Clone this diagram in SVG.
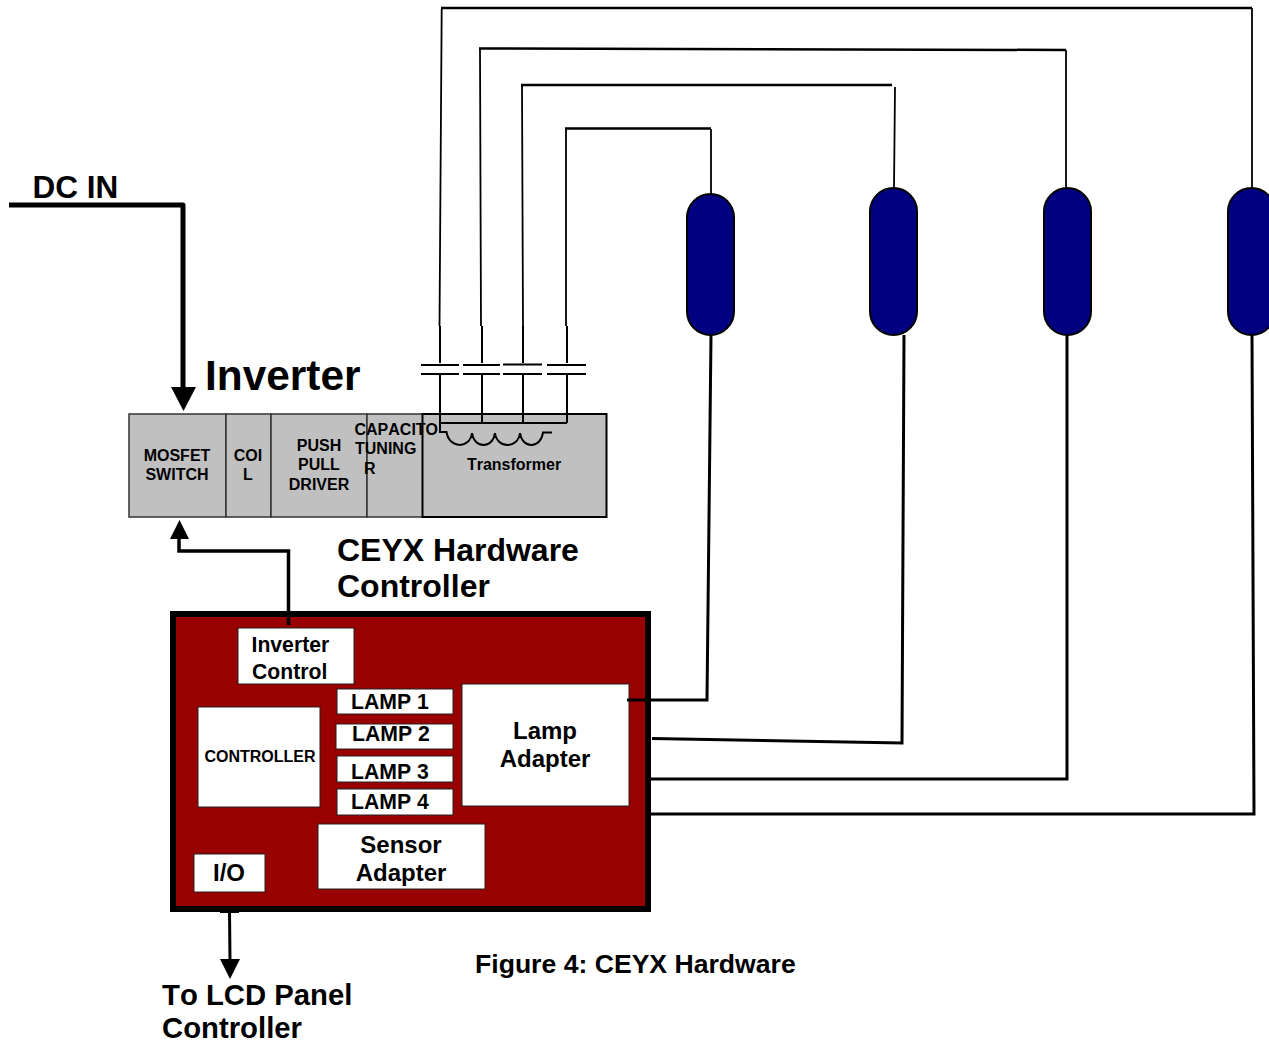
<svg xmlns="http://www.w3.org/2000/svg" width="1269" height="1040" viewBox="0 0 1269 1040">
<style>
text{font-family:"Liberation Sans",Arial,sans-serif;font-weight:700;fill:#000;font-kerning:none}
.m{text-anchor:middle}
.s16{font-size:16px}.s21{font-size:21.200px}.s24{font-size:24px}.s29{font-size:29.300px}.s31{font-size:31.500px}.s32{font-size:32px}.s42{font-size:42.400px}.s27{font-size:26.600px}
.g{fill:#c0c0c0;stroke:#333;stroke-width:1.500}
.t{fill:#c0c0c0;stroke:#000;stroke-width:2}
.b{fill:#990000;stroke:#000;stroke-width:6}
.w{fill:#fff;stroke:#222;stroke-width:1}
.lamp{fill:#000080;stroke:#000;stroke-width:2}
.c{fill:none;stroke:#000;stroke-linejoin:miter}
.h{fill:#000}
.c15{stroke-width:1.800}.c2{stroke-width:2}.c25{stroke-width:2.500}.c3{stroke-width:3}.c35{stroke-width:3.500}.c5{stroke-width:5;stroke-linejoin:round}
</style>
<g id="inverter-blocks">
<g id="mosfet"><rect class="g" x="129" y="414" width="97" height="103"/><text class="s16 m" x="177" y="461">MOSFET</text><text class="s16 m" x="177" y="480">SWITCH</text></g>
<g id="coil"><rect class="g" x="226" y="414" width="45" height="103"/><text class="s16 m" x="248" y="461">COI</text><text class="s16 m" x="248" y="480">L</text></g>
<g id="driver"><rect class="g" x="271" y="414" width="96" height="103"/><text class="s16 m" x="319" y="451">PUSH</text><text class="s16 m" x="319" y="470">PULL</text><text class="s16 m" x="319" y="490">DRIVER</text></g>
<g id="capacitor"><rect class="g" x="367" y="414" width="56" height="103"/></g>
<g id="transformer"><rect class="t" x="422.500" y="414" width="184" height="103"/><text class="s16 m" x="514" y="470">Transformer</text></g>
<g id="capacitor-label"><text class="s16" x="354.500" y="435">CAPACITO</text><text class="s16" x="355" y="454">TUNING</text><text class="s16" x="364" y="474">R</text></g>
</g>
<g id="lamps">
<rect id="lamp1" class="lamp" x="687" y="194" width="47" height="141" rx="23.500"/>
<rect id="lamp2" class="lamp" x="870" y="188" width="47" height="147" rx="23.500"/>
<rect id="lamp3" class="lamp" x="1044" y="188" width="47" height="147" rx="23.500"/>
<rect id="lamp4" class="lamp" x="1228" y="188" width="47" height="147" rx="23.500"/>
</g>
<g id="connectors">
<path class="c c5" d="M9 205H183V390"/><path class="h" d="M171 387H196L183.500 411Z"/>
<path class="c c15" d="M441.700 9L439.500 326M480 49L481 326M522 86L523 326M566 129V326M711 129V194M895 87L894 188M1066 50V188M1252 8V188"/>
<path class="c c25" d="M441 8H1252M479 48.500L1066 50M521 85H892M565 128.500H711"/>
<path class="c c2" d="M440 326V363M482 326V363M523 326V363M567 326V363"/>
<path class="c c2" d="M421 365H459M463 365H500M503 364.500H542M547 365H586M421 374H459M463 374H500M503 374H542M547 374H586"/>
<path class="c c2" d="M440 374V423M482 374V423M523 374V423M567 374V423M440 423H567"/>
<path class="c c2" d="M440 423V432H446.500C449 449 470 449 472 433C474 449 493 449 495 433C497 449 518 449 520 433C522 449 541 449 543 432.500H552"/>
<path class="c c3" d="M711 335L707 700H640"/>
<path class="c c3" d="M904 335L902 743L652 738.500"/>
<path class="c c3" d="M1067 335V779H650"/>
<path class="c c3" d="M1252 335L1254 814H650"/>
</g>
<g id="controller-board">
<rect class="b" x="173" y="614" width="475" height="295"/>
<g id="inverter-control"><rect class="w" x="238" y="628" width="116" height="56"/><text class="s21" x="251.500" y="652">Inverter</text><text class="s21" x="252" y="679">Control</text></g>
<g id="lamp-1"><rect class="w" x="337" y="689" width="116" height="25"/><text class="s21" x="351" y="709">LAMP 1</text></g>
<g id="lamp-2"><rect class="w" x="336" y="724" width="117" height="25"/><text class="s21" x="352" y="741">LAMP 2</text></g>
<g id="lamp-3"><rect class="w" x="337" y="756" width="116" height="26"/><text class="s21" x="351" y="779">LAMP 3</text></g>
<g id="lamp-4"><rect class="w" x="337" y="789" width="116" height="26"/><text class="s21" x="351" y="809">LAMP 4</text></g>
<g id="controller"><rect class="w" x="198" y="707" width="122" height="100"/><text class="s16 m" x="260" y="762">CONTROLLER</text></g>
<g id="lamp-adapter"><rect class="w" x="462" y="684" width="167" height="122"/><text class="s24 m" x="545" y="739">Lamp</text><text class="s24 m" x="545" y="767">Adapter</text></g>
<g id="sensor-adapter"><rect class="w" x="318" y="824" width="167" height="65"/><text class="s24 m" x="401" y="853">Sensor</text><text class="s24 m" x="401" y="881">Adapter</text></g>
<g id="io"><rect class="w" x="194" y="854" width="71" height="38"/><text class="s24 m" x="229" y="881">I/O</text></g>
</g>
<g id="connectors-top">
<path class="c c35" d="M288.500 625V551H179V535"/><path class="h" d="M170 539H189L179.500 520Z"/>
<path class="c c3" d="M220 911.500H239M229.500 911L230 962"/><path class="h" d="M220 959H240L230 979Z"/>
<path class="c c3" d="M627 700H650"/>
</g>
<g id="labels">
<text class="s31" x="32.500" y="198">DC IN</text>
<text class="s42" x="205" y="390">Inverter</text>
<text class="s32" x="337" y="561">CEYX Hardware</text>
<text class="s32" x="337" y="597">Controller</text>
<text class="s29" x="162" y="1005">To LCD Panel</text>
<text class="s29" x="162" y="1038">Controller</text>
<text class="s27" x="475" y="973">Figure 4: CEYX Hardware</text>
</g>
</svg>
